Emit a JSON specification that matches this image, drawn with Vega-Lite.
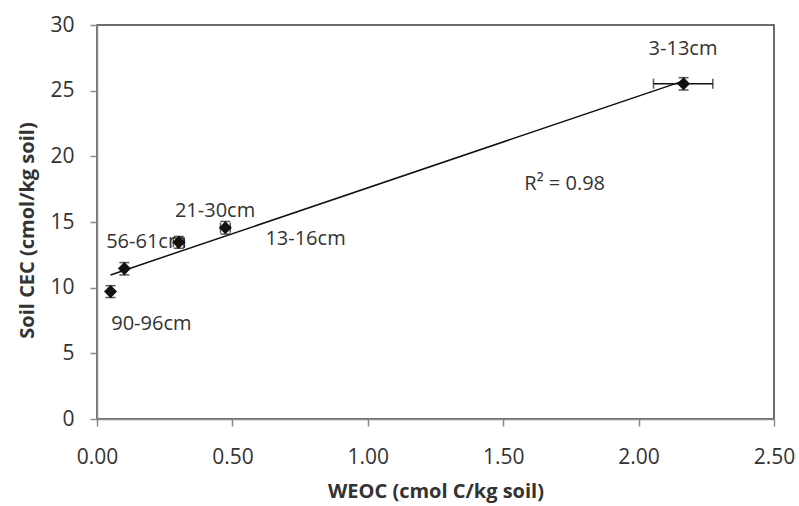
{
  "$schema": "https://vega.github.io/schema/vega-lite/v6.json",
  "width": 677,
  "height": 394,
  "autosize": {"type": "none"},
  "padding": {"left": 97, "top": 25, "right": 25, "bottom": 87},
  "background": "white",
  "config": {
    "view": {"stroke": "#3c3c3c", "strokeWidth": 1.5},
    "axis": {
      "grid": false,
      "domainColor": "#8a8a8a",
      "domainWidth": 1.5,
      "tickColor": "#8a8a8a",
      "tickWidth": 1.5,
      "tickSize": 7,
      "labelFont": "Open Sans",
      "labelFontSize": 21,
      "labelColor": "#333333",
      "labelFlush": false,
      "titleFont": "Open Sans",
      "titleFontSize": 20,
      "titleFontWeight": "bold",
      "titleColor": "#333333",
      "zindex": 1
    }
  },
  "datasets": {
    "pts": [
      {"depth": "90-96cm", "x": 0.050, "y": 9.70, "ylo": 9.25, "yhi": 10.15},
      {"depth": "13-16cm", "x": 0.101, "y": 11.45, "ylo": 10.97, "yhi": 11.91},
      {"depth": "56-61cm", "x": 0.302, "y": 13.46, "ylo": 13.0, "yhi": 13.9},
      {"depth": "21-30cm", "x": 0.474, "y": 14.56, "ylo": 14.08, "yhi": 15.04},
      {"depth": "3-13cm", "x": 2.166, "y": 25.53, "ylo": 25.05, "yhi": 25.99}
    ],
    "xerr": [
      {"depth": "56-61cm", "y": 13.46, "xlo": 0.282, "xhi": 0.322},
      {"depth": "21-30cm", "y": 14.56, "xlo": 0.456, "xhi": 0.492},
      {"depth": "3-13cm", "y": 25.53, "xlo": 2.055, "xhi": 2.274}
    ],
    "labels": [
      {"label": "3-13cm", "x": 2.164, "y": 28.15},
      {"label": "R² = 0.98", "x": 1.727, "y": 17.93},
      {"label": "21-30cm", "x": 0.436, "y": 15.8},
      {"label": "56-61cm", "x": 0.182, "y": 13.51},
      {"label": "13-16cm", "x": 0.770, "y": 13.74},
      {"label": "90-96cm", "x": 0.2007, "y": 7.26}
    ]
  },
  "layer": [
    {
      "data": {"name": "pts"},
      "transform": [{"regression": "y", "on": "x", "method": "linear"}],
      "mark": {"type": "line", "color": "#111111", "strokeWidth": 1.5},
      "encoding": {
        "x": {
          "field": "x",
          "type": "quantitative",
          "title": "WEOC (cmol C/kg soil)",
          "scale": {"domain": [0, 2.5], "nice": false, "padding": 0},
          "axis": {"values": [0, 0.5, 1, 1.5, 2, 2.5], "format": ".2f", "labelPadding": 20, "titlePadding": 14}
        },
        "y": {
          "field": "y",
          "type": "quantitative",
          "title": "Soil CEC (cmol/kg soil)",
          "scale": {"domain": [0, 30], "nice": false, "padding": 0},
          "axis": {"values": [0, 5, 10, 15, 20, 25, 30], "labelPadding": 16, "titlePadding": 12, "titleY": 205}
        }
      }
    },
    {
      "data": {"name": "labels"},
      "mark": {"type": "text", "font": "Open Sans", "fontSize": 20, "color": "#333333", "align": "center", "baseline": "middle"},
      "encoding": {
        "x": {"field": "x", "type": "quantitative", "title": "WEOC (cmol C/kg soil)"},
        "y": {"field": "y", "type": "quantitative", "title": "Soil CEC (cmol/kg soil)"},
        "text": {"field": "label"}
      }
    },
    {
      "data": {"name": "pts"},
      "mark": {"type": "errorbar", "color": "#111111", "thickness": 1.5, "ticks": {"size": 10, "color": "#111111"}},
      "encoding": {
        "x": {"field": "x", "type": "quantitative", "title": "WEOC (cmol C/kg soil)"},
        "y": {"field": "ylo", "type": "quantitative", "title": "Soil CEC (cmol/kg soil)"},
        "y2": {"field": "yhi"}
      }
    },
    {
      "data": {"name": "xerr"},
      "mark": {"type": "errorbar", "color": "#111111", "thickness": 1.5, "ticks": {"size": 10, "color": "#111111"}},
      "encoding": {
        "y": {"field": "y", "type": "quantitative", "title": "Soil CEC (cmol/kg soil)"},
        "x": {"field": "xlo", "type": "quantitative", "title": "WEOC (cmol C/kg soil)"},
        "x2": {"field": "xhi"}
      }
    },
    {
      "data": {"name": "pts"},
      "mark": {"type": "point", "shape": "diamond", "filled": true, "size": 170, "color": "#111111", "opacity": 1},
      "encoding": {
        "x": {"field": "x", "type": "quantitative", "title": "WEOC (cmol C/kg soil)"},
        "y": {"field": "y", "type": "quantitative", "title": "Soil CEC (cmol/kg soil)"}
      }
    }
  ]
}
